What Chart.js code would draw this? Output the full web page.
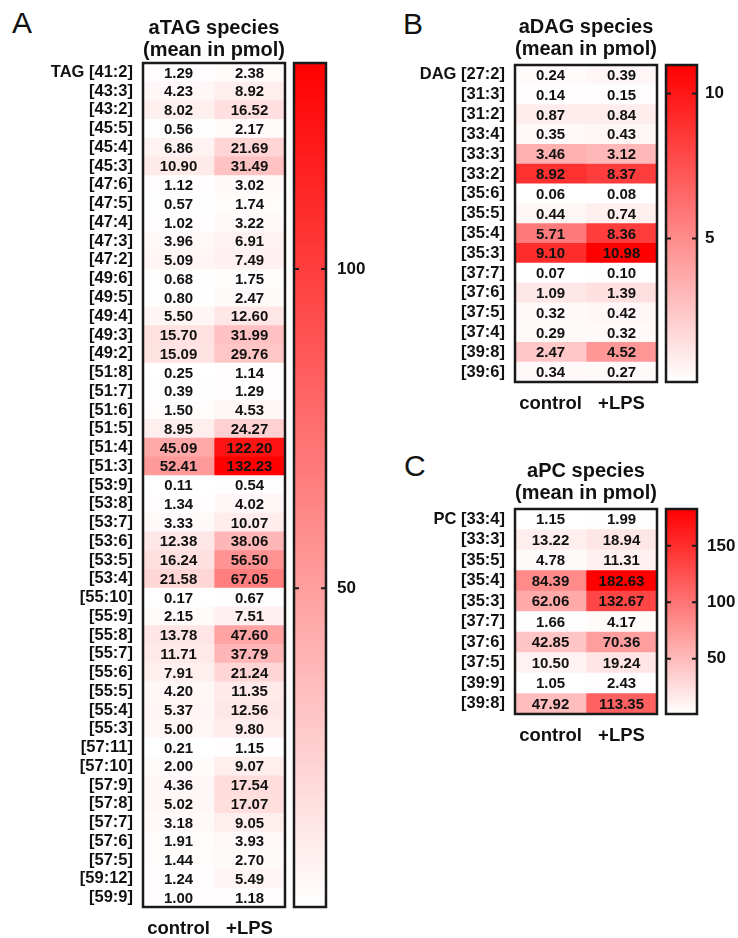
<!DOCTYPE html>
<html>
<head>
<meta charset="utf-8">
<script src="https://cdn.jsdelivr.net/npm/chart.js@4.4.0/dist/chart.umd.min.js"></script>
<style>
  body { margin: 0; background: #fff; }
  #page { position: relative; width: 738px; height: 938px; font-family: "Liberation Sans", Arial, sans-serif; }
  .box { position: absolute; }
  .letter { position: absolute; font-size: 30px; line-height: 30px; color: #111; }
</style>
</head>
<body>
<div id="page">
  <div class="letter" style="left:12px;top:8px">A</div>
  <div class="letter" style="left:403px;top:9px">B</div>
  <div class="letter" style="left:404px;top:451px">C</div>
  <div class="box" style="left:0;top:0;width:290px;height:938px"><canvas id="tagChart"></canvas></div>
  <div class="box" style="left:290px;top:0;width:80px;height:938px"><canvas id="tagBar"></canvas></div>
  <div class="box" style="left:370px;top:0;width:292px;height:413px"><canvas id="dagChart"></canvas></div>
  <div class="box" style="left:662px;top:0;width:76px;height:413px"><canvas id="dagBar"></canvas></div>
  <div class="box" style="left:370px;top:440px;width:292px;height:305px"><canvas id="pcChart"></canvas></div>
  <div class="box" style="left:662px;top:440px;width:76px;height:305px"><canvas id="pcBar"></canvas></div>
</div>
<script>
const columns = ['control', '+LPS'];

// TAG
const tagSpecies = ['TAG [41:2]', '[43:3]', '[43:2]', '[45:5]', '[45:4]', '[45:3]', '[47:6]', '[47:5]', '[47:4]', '[47:3]',
  '[47:2]', '[49:6]', '[49:5]', '[49:4]', '[49:3]', '[49:2]', '[51:8]', '[51:7]', '[51:6]', '[51:5]',
  '[51:4]', '[51:3]', '[53:9]', '[53:8]', '[53:7]', '[53:6]', '[53:5]', '[53:4]', '[55:10]', '[55:9]',
  '[55:8]', '[55:7]', '[55:6]', '[55:5]', '[55:4]', '[55:3]', '[57:11]', '[57:10]', '[57:9]', '[57:8]',
  '[57:7]', '[57:6]', '[57:5]', '[59:12]', '[59:9]'];
const tagControl = [1.29, 4.23, 8.02, 0.56, 6.86, 10.90, 1.12, 0.57, 1.02, 3.96,
  5.09, 0.68, 0.80, 5.50, 15.70, 15.09, 0.25, 0.39, 1.50, 8.95,
  45.09, 52.41, 0.11, 1.34, 3.33, 12.38, 16.24, 21.58, 0.17, 2.15,
  13.78, 11.71, 7.91, 4.20, 5.37, 5.00, 0.21, 2.00, 4.36, 5.02,
  3.18, 1.91, 1.44, 1.24, 1.00];
const tagLPS = [2.38, 8.92, 16.52, 2.17, 21.69, 31.49, 3.02, 1.74, 3.22, 6.91,
  7.49, 1.75, 2.47, 12.60, 31.99, 29.76, 1.14, 1.29, 4.53, 24.27,
  122.20, 132.23, 0.54, 4.02, 10.07, 38.06, 56.50, 67.05, 0.67, 7.51,
  47.60, 37.79, 21.24, 11.35, 12.56, 9.80, 1.15, 9.07, 17.54, 17.07,
  9.05, 3.93, 2.70, 5.49, 1.18];
const tagTicks = [50, 100];

// DAG
const dagSpecies = ['DAG [27:2]', '[31:3]', '[31:2]', '[33:4]', '[33:3]', '[33:2]', '[35:6]', '[35:5]',
  '[35:4]', '[35:3]', '[37:7]', '[37:6]', '[37:5]', '[37:4]', '[39:8]', '[39:6]'];
const dagControl = [0.24, 0.14, 0.87, 0.35, 3.46, 8.92, 0.06, 0.44, 5.71, 9.10, 0.07, 1.09, 0.32, 0.29, 2.47, 0.34];
const dagLPS = [0.39, 0.15, 0.84, 0.43, 3.12, 8.37, 0.08, 0.74, 8.36, 10.98, 0.10, 1.39, 0.42, 0.32, 4.52, 0.27];
const dagTicks = [5, 10];

// PC
const pcSpecies = ['PC [33:4]', '[33:3]', '[35:5]', '[35:4]', '[35:3]', '[37:7]', '[37:6]', '[37:5]', '[39:9]', '[39:8]'];
const pcControl = [1.15, 13.22, 4.78, 84.39, 62.06, 1.66, 42.85, 10.50, 1.05, 47.92];
const pcLPS = [1.99, 18.94, 11.31, 182.63, 132.67, 4.17, 70.36, 19.24, 2.43, 113.35];
const pcTicks = [50, 100, 150];

Chart.defaults.font.family = '"Liberation Sans", Arial, sans-serif';
Chart.defaults.color = '#111';

const heatColor = (v, lo, hi) => {
  const t = (v - lo) / (hi - lo);
  const g = Math.round(255 * (1 - t));
  return `rgb(255,${g},${g})`;
};

const boxBorder = {
  id: 'boxBorder',
  afterDatasetsDraw(chart) {
    const a = chart.chartArea;
    const c = chart.ctx;
    c.save();
    c.strokeStyle = '#1a1a1a';
    c.lineWidth = 2.5;
    c.strokeRect(a.left, a.top, a.right - a.left, a.bottom - a.top);
    c.restore();
  }
};

const cellText = {
  id: 'cellText',
  afterDatasetsDraw(chart) {
    const c = chart.ctx;
    c.save();
    c.font = 'bold 15px "Liberation Sans", Arial, sans-serif';
    c.fillStyle = '#111';
    c.textAlign = 'center';
    c.textBaseline = 'middle';
    chart.data.datasets.forEach((ds, i) => {
      chart.getDatasetMeta(i).data.forEach((bar, j) => {
        const p = bar.getCenterPoint();
        c.fillText(ds.values[j].toFixed(2), p.x, p.y + 1);
      });
    });
    c.restore();
  }
};

const innerTicks = {
  id: 'innerTicks',
  afterDatasetsDraw(chart) {
    const a = chart.chartArea;
    const y = chart.scales.y;
    const c = chart.ctx;
    c.save();
    c.strokeStyle = '#1a1a1a';
    c.lineWidth = 2;
    y.ticks.forEach((t) => {
      const py = y.getPixelForValue(t.value);
      c.beginPath();
      c.moveTo(a.left, py);
      c.lineTo(a.left + 5, py);
      c.moveTo(a.right - 5, py);
      c.lineTo(a.right, py);
      c.stroke();
    });
    c.restore();
  }
};

const makeHeatmap = (id, title, rows, control, lps, yWidth, titlePad) => {
  const lo = Math.min(...control, ...lps);
  const hi = Math.max(...control, ...lps);
  const series = [control, lps];
  return new Chart(document.getElementById(id), {
    type: 'bar',
    data: {
      labels: rows,
      datasets: series.map((vals, k) => ({
        label: columns[k],
        values: vals,
        data: vals.map(() => [k, k + 1]),
        backgroundColor: vals.map((v) => heatColor(v, lo, hi)),
        borderWidth: 0
      }))
    },
    options: {
      indexAxis: 'y',
      responsive: true,
      maintainAspectRatio: false,
      animation: false,
      layout: { padding: { right: 5 } },
      datasets: { bar: { grouped: false, barPercentage: 1, categoryPercentage: 1 } },
      plugins: {
        legend: { display: false },
        tooltip: { enabled: false },
        title: {
          display: true,
          text: title,
          fullSize: false,
          color: '#111',
          font: { size: 20, weight: 'bold', lineHeight: '22px' },
          padding: titlePad
        }
      },
      scales: {
        x: {
          type: 'linear',
          min: 0,
          max: columns.length,
          grid: { display: false, drawTicks: false },
          border: { display: false },
          afterBuildTicks: (s) => { s.ticks = columns.map((c, i) => ({ value: i + 0.5 })); },
          afterFit: (s) => { s.height = 31; },
          ticks: {
            callback: (v, i) => columns[i],
            padding: 11,
            maxRotation: 0,
            font: { size: 18.5, weight: 'bold' }
          }
        },
        y: {
          grid: { display: false, drawTicks: false },
          border: { display: false },
          afterFit: (s) => { s.width = yWidth; },
          ticks: { padding: 10, autoSkip: false, font: { size: 16.5, weight: 'bold' } }
        }
      }
    },
    plugins: [cellText, boxBorder]
  });
};

const makeColorbar = (id, control, lps, tickVals, pad, yWidth, labelPad) => {
  const lo = Math.min(...control, ...lps);
  const hi = Math.max(...control, ...lps);
  return new Chart(document.getElementById(id), {
    type: 'bar',
    data: {
      labels: [''],
      datasets: [{
        data: [[lo, hi]],
        borderWidth: 0,
        barPercentage: 1,
        categoryPercentage: 1,
        backgroundColor: (ctx) => {
          const a = ctx.chart.chartArea;
          if (!a) return 'red';
          const g = ctx.chart.ctx.createLinearGradient(0, a.bottom, 0, a.top);
          g.addColorStop(0, heatColor(lo, lo, hi));
          g.addColorStop(1, heatColor(hi, lo, hi));
          return g;
        }
      }]
    },
    options: {
      responsive: true,
      maintainAspectRatio: false,
      animation: false,
      layout: { padding: pad },
      plugins: { legend: { display: false }, tooltip: { enabled: false } },
      scales: {
        x: { display: false },
        y: {
          position: 'right',
          min: lo,
          max: hi,
          grid: { display: false, drawTicks: false },
          border: { display: false },
          afterBuildTicks: (s) => { s.ticks = tickVals.map((v) => ({ value: v })); },
          afterFit: (s) => { s.width = yWidth; },
          ticks: { padding: labelPad, font: { size: 17, weight: 'bold' } }
        }
      }
    },
    plugins: [innerTicks, boxBorder]
  });
};

makeHeatmap('tagChart', ['aTAG species', '(mean in pmol)'], tagSpecies, tagControl, tagLPS, 143, { top: 17, bottom: 2 });
makeColorbar('tagBar', tagControl, tagLPS, tagTicks, { left: 4, top: 63, bottom: 31 }, 44, 11);

makeHeatmap('dagChart', ['aDAG species', '(mean in pmol)'], dagSpecies, dagControl, dagLPS, 145, { top: 16, bottom: 5 });
makeColorbar('dagBar', dagControl, dagLPS, dagTicks, { left: 4, top: 65, bottom: 31 }, 41, 8);

makeHeatmap('pcChart', ['aPC species', '(mean in pmol)'], pcSpecies, pcControl, pcLPS, 145, { top: 20, bottom: 5 });
makeColorbar('pcBar', pcControl, pcLPS, pcTicks, { left: 4, top: 69, bottom: 31 }, 41, 10);
</script>
</body>
</html>
